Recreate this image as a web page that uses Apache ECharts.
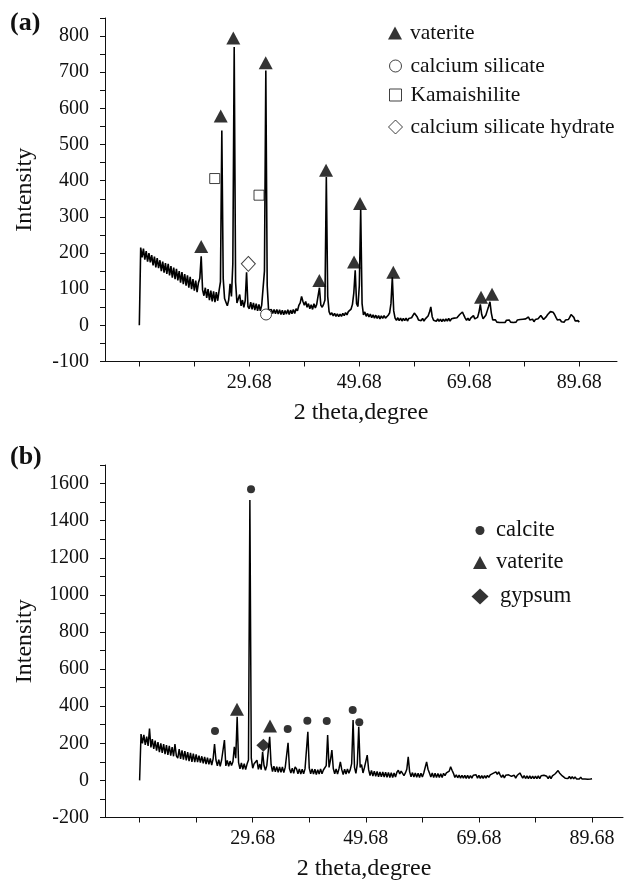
<!DOCTYPE html>
<html>
<head>
<meta charset="utf-8">
<title>XRD patterns (a) and (b)</title>
<script src="https://cdn.jsdelivr.net/npm/echarts@6/dist/echarts.min.js"></script>
<style>
  html, body { margin: 0; padding: 0; background: #fff; }
  #xrd { width: 624px; height: 883px; }
</style>
</head>
<body>
<div id="xrd"></div>
<script>
// both scans are sampled on the same 2 theta grid (degree)
var thetaStart = 9.68
var thetaStep = 0.25

// sample (a): intensity, one value per 0.25 degree from 9.68
var intensityA = [
  0, 215, 188, 212, 182, 205, 176, 200, 174, 194, 166, 190, 160, 186, 158, 180, 150, 176, 146, 172,
  142, 170, 138, 164, 132, 160, 128, 156, 124, 150, 118, 147, 114, 142, 110, 138, 104, 134, 100, 128,
  96, 124, 92, 118, 130, 191, 98, 82, 104, 76, 100, 70, 96, 66, 94, 64, 92, 68, 96, 120,
  539, 130, 74, 64, 54, 70, 115, 80, 170, 770, 120, 62, 66, 85, 54, 70, 50, 68, 147, 52,
  46, 64, 44, 62, 42, 60, 40, 58, 40, 56, 60, 150, 705, 110, 42, 40, 44, 33, 44, 32,
  44, 31, 43, 30, 42, 29, 41, 31, 43, 30, 42, 32, 44, 33, 46, 40, 55, 62, 80, 66,
  56, 66, 50, 60, 46, 57, 44, 60, 48, 58, 62, 104, 56, 50, 58, 70, 410, 80, 38, 29,
  35, 26, 33, 25, 32, 24, 31, 25, 33, 27, 35, 29, 38, 36, 45, 58, 90, 152, 60, 52,
  110, 320, 60, 29, 37, 25, 33, 23, 31, 21, 29, 20, 28, 19, 27, 18, 26, 19, 27, 20,
  25, 28, 34, 60, 133, 40, 20, 14, 21, 13, 20, 12, 19, 13, 20, 12, 19, 14, 21, 22,
  34, 37, 24, 15, 20, 13, 19, 12, 18, 22, 26, 36, 51, 24, 14, 19, 11, 18, 11, 17,
  10, 17, 11, 18, 12, 19, 12, 18, 13, 20, 16, 21, 26, 30, 34, 37, 28, 20, 14, 20,
  13, 20, 24, 27, 18, 15, 22, 36, 58, 30, 18, 22, 28, 40, 52, 65, 34, 15, 10, 15,
  9, 14, 8, 13, 8, 13, 8, 14, 9, 15, 9, 14, 8, 13, 9, 15, 10, 16, 11, 17,
  12, 18, 20, 23, 15, 11, 17, 10, 16, 12, 18, 21, 27, 22, 16, 20, 24, 30, 35, 38,
  42, 36, 30, 22, 15, 11, 16, 10, 15, 9, 15, 10, 16, 22, 30, 32, 22, 12, 8, 13,
  9
]

// sample (b)
var intensityB = [
  0, 250, 200, 245, 192, 236, 186, 280, 178, 222, 170, 214, 160, 206, 152, 200, 148, 196, 142, 190,
  138, 186, 134, 180, 130, 196, 132, 120, 168, 116, 162, 112, 158, 108, 152, 104, 148, 100, 144, 98,
  140, 98, 134, 96, 130, 92, 126, 88, 122, 86, 118, 82, 116, 196, 110, 78, 112, 76, 110, 104,
  217, 78, 108, 76, 104, 80, 100, 181, 120, 343, 96, 62, 94, 60, 90, 58, 88, 110, 1511, 120,
  66, 90, 88, 109, 60, 88, 58, 154, 80, 54, 82, 90, 235, 86, 48, 76, 46, 74, 44, 72,
  44, 72, 42, 70, 72, 203, 64, 40, 66, 38, 73, 62, 36, 62, 34, 60, 36, 62, 70, 262,
  66, 36, 62, 34, 60, 32, 58, 34, 62, 36, 56, 60, 80, 244, 70, 110, 163, 64, 36, 62,
  34, 62, 100, 58, 32, 60, 34, 62, 38, 58, 90, 325, 70, 38, 90, 289, 70, 85, 40, 68,
  70, 136, 58, 26, 54, 24, 50, 22, 48, 20, 46, 19, 45, 18, 44, 17, 43, 16, 42, 16,
  40, 18, 44, 55, 35, 50, 60, 26, 40, 60, 127, 46, 20, 42, 18, 40, 17, 39, 16, 38,
  18, 40, 45, 100, 60, 40, 18, 40, 16, 38, 15, 37, 15, 36, 15, 38, 26, 40, 42, 50,
  73, 55, 38, 16, 30, 14, 29, 12, 28, 12, 27, 11, 27, 11, 26, 12, 28, 26, 30, 12,
  27, 11, 26, 11, 26, 12, 27, 16, 30, 30, 38, 42, 46, 32, 46, 30, 16, 30, 13, 28,
  24, 30, 35, 22, 12, 28, 12, 26, 32, 40, 26, 12, 26, 10, 25, 10, 24, 9, 23, 9,
  23, 9, 24, 10, 25, 22, 28, 35, 22, 10, 24, 10, 24, 24, 36, 44, 53, 40, 35, 24,
  28, 12, 22, 10, 21, 9, 20, 8, 19, 8, 18, 7, 18, 7, 17, 7, 16, 6, 15, 7,
  9
]

// phase markers [2 theta, intensity]
var vateriteA = [[20.93, 218], [24.48, 579], [26.77, 795], [32.66, 726], [42.41, 124], [43.63, 429],
  [48.72, 175], [49.81, 337], [55.86, 147], [71.81, 78], [73.81, 86]]
var calciumSilicateA = [[32.72, 30]]
var kamaishiliteA = [[23.39, 406], [31.44, 360]]
var cshA = [[29.5, 170]]

var calciteB = [[23.01, 266], [29.38, 1569], [35.87, 277], [39.34, 321], [42.77, 320], [47.36, 379], [48.53, 313]]
var vateriteB = [[26.9, 383], [32.74, 293]]
var gypsumB = [[31.56, 190]]

// ticks and labels
var xTicks = [9.68, 19.68, 29.68, 39.68, 49.68, 59.68, 69.68, 79.68, 89.68]
var xLabels = [29.68, 49.68, 69.68, 89.68]
var yTicksA = [-100, -50, 0, 50, 100, 150, 200, 250, 300, 350, 400, 450, 500, 550, 600, 650, 700, 750, 800, 850]
var yLabelsA = [-100, 0, 100, 200, 300, 400, 500, 600, 700, 800]
var yTicksB = [-200, -100, 0, 100, 200, 300, 400, 500, 600, 700, 800, 900, 1000, 1100, 1200, 1300, 1400, 1500, 1600, 1700]
var yLabelsB = [-200, 0, 200, 400, 600, 800, 1000, 1200, 1400, 1600]

var serif = "'Liberation Serif', 'Times New Roman', serif"
var ink = '#111'

function toPoints(values) {
  return values.map(function (v, i) {
    return [+(thetaStart + i * thetaStep).toFixed(2), v]
  })
}

function xAxisFor(grid, min, max) {
  return {
    gridIndex: grid, type: 'value', min: min, max: max,
    name: '2 theta,degree', nameLocation: 'middle', nameGap: 39,
    nameTextStyle: { fontFamily: serif, fontSize: 24, color: ink },
    axisLine: { show: true, onZero: false, lineStyle: { color: ink, width: 1 } },
    axisTick: { show: true, length: 5, customValues: xTicks, lineStyle: { color: ink } },
    axisLabel: {
      customValues: xLabels, fontFamily: serif, fontSize: 20, color: ink, margin: 11,
      formatter: function (v) { return v.toFixed(2) }
    },
    splitLine: { show: false }
  }
}

function yAxisFor(grid, min, max, ticks, labels) {
  return {
    gridIndex: grid, type: 'value', min: min, max: max,
    name: 'Intensity', nameLocation: 'middle', nameGap: 68, nameRotate: 90,
    nameTextStyle: { fontFamily: serif, fontSize: 24, color: ink },
    axisLine: { show: true, onZero: false, lineStyle: { color: ink, width: 1 } },
    axisTick: { show: true, length: 5, customValues: ticks, lineStyle: { color: ink } },
    axisLabel: {
      customValues: labels, fontFamily: serif, fontSize: 20, color: ink, margin: 16,
      formatter: function (v) { return String(v) }
    },
    splitLine: { show: false }
  }
}

function marker(name, grid, data, symbol, size, open) {
  return {
    name: name, type: 'scatter', xAxisIndex: grid, yAxisIndex: grid,
    symbol: symbol, symbolSize: size, data: data, z: 5,
    itemStyle: open
      ? { color: '#fff', borderColor: ink, borderWidth: 1 }
      : { color: '#000' }
  }
}

function legendFor(name, left, top, w, h, pad, size) {
  return {
    data: [name], orient: 'vertical', left: left, top: top, padding: 0,
    itemWidth: w, itemHeight: h, selectedMode: false,
    itemStyle: { borderWidth: 1 },
    textStyle: { fontFamily: serif, fontSize: size, color: ink, padding: [0, 0, 0, pad] }
  }
}

var option = {
  animation: false,
  backgroundColor: '#fff',
  textStyle: { fontFamily: serif },
  title: [
    { text: '(a)', left: 10, top: 10, padding: 0, textStyle: { fontFamily: serif, fontWeight: 'bold', fontSize: 26, color: ink } },
    { text: '(b)', left: 10, top: 444, padding: 0, textStyle: { fontFamily: serif, fontWeight: 'bold', fontSize: 26, color: ink } }
  ],
  legend: [
    legendFor('vaterite', 388, 22, 14, 13, 3, 21.5),
    legendFor('calcium silicate', 389, 55, 12, 12, 4, 21.5),
    legendFor('Kamaishilite', 389, 84, 12, 12, 4, 21.5),
    legendFor('calcium silicate hydrate', 388, 116, 14, 14, 3, 21.5),
    legendFor('calcite', 475.5, 519, 9, 9, 6.5, 22.5),
    legendFor('vaterite', 473, 551, 14, 13, 4, 22.5),
    legendFor('gypsum', 471.5, 585, 17, 16, 6.5, 22.5)
  ],
  grid: [
    { left: 105, top: 18, width: 512, height: 343.5 },
    { left: 105, top: 465, width: 518, height: 352.5 }
  ],
  xAxis: [xAxisFor(0, 3.44, 96.53), xAxisFor(1, 3.56, 95.16)],
  yAxis: [
    yAxisFor(0, -100, 850, yTicksA, yLabelsA),
    yAxisFor(1, -200, 1700, yTicksB, yLabelsB)
  ],
  series: [
    {
      name: 'scan a', type: 'line', xAxisIndex: 0, yAxisIndex: 0,
      data: toPoints(intensityA), symbol: 'none', silent: true,
      lineStyle: { color: '#000', width: 1.6 }
    },
    {
      name: 'scan b', type: 'line', xAxisIndex: 1, yAxisIndex: 1,
      data: toPoints(intensityB), symbol: 'none', silent: true,
      lineStyle: { color: '#000', width: 1.5 }
    },
    marker('vaterite', 0, vateriteA, 'triangle', [14, 13], false),
    marker('calcium silicate', 0, calciumSilicateA, 'circle', 11, true),
    marker('Kamaishilite', 0, kamaishiliteA, 'rect', 10, true),
    marker('calcium silicate hydrate', 0, cshA, 'diamond', [14, 15], true),
    marker('calcite', 1, calciteB, 'circle', 8, false),
    marker('vaterite', 1, vateriteB, 'triangle', [14, 13], false),
    marker('gypsum', 1, gypsumB, 'diamond', [14, 13], false)
  ]
}

var chart = echarts.init(document.getElementById('xrd'))
chart.setOption(option)
</script>
</body>
</html>
